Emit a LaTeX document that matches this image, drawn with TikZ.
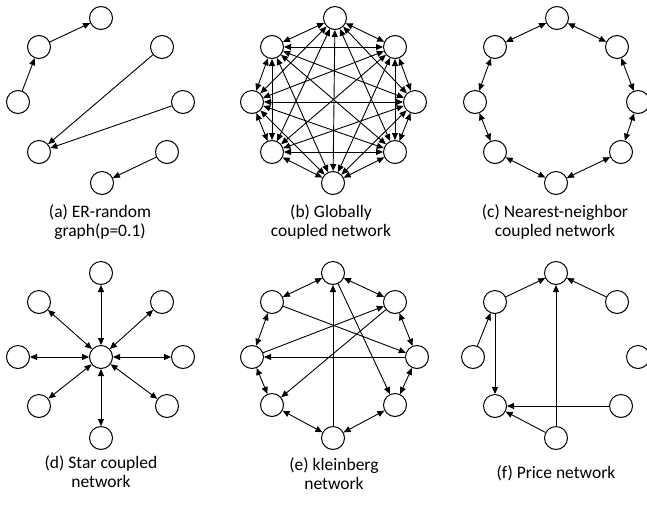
\documentclass[tikz,border=0pt]{standalone}
\usepackage{fontspec}
\setmainfont{Carlito}
\usetikzlibrary{arrows.meta}

\begin{document}
\begin{tikzpicture}[x=1pt,y=-1pt,
    vtx/.style={draw, circle, line width=1pt, minimum size=23pt, inner sep=0pt, fill=white},
    lnk/.style={line width=0.9pt, >={Triangle[length=7pt,width=6pt]}},
    subcap/.style={align=center, font=\fontsize{17.5}{19}\selectfont}]
    \useasboundingbox (0,0) rectangle (647,504);

    % (a) ER-random graph
    \node[vtx] (a1) at (101,18) {};
    \node[vtx] (a2) at (39,47) {};
    \node[vtx] (a3) at (162,47) {};
    \node[vtx] (a4) at (18,102) {};
    \node[vtx] (a5) at (183,102) {};
    \node[vtx] (a6) at (39,152) {};
    \node[vtx] (a7) at (167,152) {};
    \node[vtx] (a8) at (102,183) {};
    \draw[lnk,->] (a4) -- (a2);
    \draw[lnk,->] (a2) -- (a1);
    \draw[lnk,->] (a3) -- (a6);
    \draw[lnk,->] (a5) -- (a6);
    \draw[lnk,->] (a7) -- (a8);
    \node[subcap] (capa) at (100,222) {(a) ER-random\\graph(p=0.1)};

    % (b) globally coupled
    \node[vtx] (b1) at (335,18) {};
    \node[vtx] (b2) at (272,47) {};
    \node[vtx] (b3) at (395,47) {};
    \node[vtx] (b4) at (252,102) {};
    \node[vtx] (b5) at (415,102) {};
    \node[vtx] (b6) at (272,152) {};
    \node[vtx] (b7) at (395,152) {};
    \node[vtx] (b8) at (333,183) {};
    \draw[lnk,<->] (b1) -- (b2); \draw[lnk,<->] (b1) -- (b3); \draw[lnk,<->] (b1) -- (b4); \draw[lnk,<->] (b1) -- (b5);
    \draw[lnk,<->] (b1) -- (b6); \draw[lnk,<->] (b1) -- (b7); \draw[lnk,<->] (b1) -- (b8);
    \draw[lnk,<->] (b2) -- (b3); \draw[lnk,<->] (b2) -- (b4); \draw[lnk,<->] (b2) -- (b5); \draw[lnk,<->] (b2) -- (b6);
    \draw[lnk,<->] (b2) -- (b7); \draw[lnk,<->] (b2) -- (b8);
    \draw[lnk,<->] (b3) -- (b4); \draw[lnk,<->] (b3) -- (b5); \draw[lnk,<->] (b3) -- (b6); \draw[lnk,<->] (b3) -- (b7);
    \draw[lnk,<->] (b3) -- (b8);
    \draw[lnk,<->] (b4) -- (b5); \draw[lnk,<->] (b4) -- (b6); \draw[lnk,<->] (b4) -- (b7); \draw[lnk,<->] (b4) -- (b8);
    \draw[lnk,<->] (b5) -- (b6); \draw[lnk,<->] (b5) -- (b7); \draw[lnk,<->] (b5) -- (b8);
    \draw[lnk,<->] (b6) -- (b7); \draw[lnk,<->] (b6) -- (b8);
    \draw[lnk,<->] (b7) -- (b8);
    \node[subcap] (capb) at (331,222) {(b) Globally\\coupled network};

    % (c) nearest-neighbor coupled
    \node[vtx] (c1) at (557,18) {};
    \node[vtx] (c2) at (495,47) {};
    \node[vtx] (c3) at (617,47) {};
    \node[vtx] (c4) at (475,102) {};
    \node[vtx] (c5) at (638,102) {};
    \node[vtx] (c6) at (495,152) {};
    \node[vtx] (c7) at (621,152) {};
    \node[vtx] (c8) at (556,183) {};
    \draw[lnk,<->] (c1) -- (c2);
    \draw[lnk,<->] (c2) -- (c4);
    \draw[lnk,<->] (c4) -- (c6);
    \draw[lnk,<->] (c6) -- (c8);
    \draw[lnk,<->] (c8) -- (c7);
    \draw[lnk,<->] (c7) -- (c5);
    \draw[lnk,<->] (c5) -- (c3);
    \draw[lnk,<->] (c3) -- (c1);
    \node[subcap] (capc) at (555,222) {(c) Nearest-neighbor\\coupled network};

    % (d) star coupled
    \node[vtx] (d0) at (101,357) {};
    \node[vtx] (d1) at (101,273) {};
    \node[vtx] (d2) at (39,302) {};
    \node[vtx] (d3) at (162,302) {};
    \node[vtx] (d4) at (18,357) {};
    \node[vtx] (d5) at (183,357) {};
    \node[vtx] (d6) at (39,406) {};
    \node[vtx] (d7) at (167,406) {};
    \node[vtx] (d8) at (101,438) {};
    \draw[lnk,<->] (d0) -- (d1);
    \draw[lnk,<->] (d0) -- (d2);
    \draw[lnk,<->] (d0) -- (d3);
    \draw[lnk,<->] (d0) -- (d4);
    \draw[lnk,<->] (d0) -- (d5);
    \draw[lnk,<->] (d0) -- (d6);
    \draw[lnk,<->] (d0) -- (d7);
    \draw[lnk,<->] (d0) -- (d8);
    \node[subcap] (capd) at (101,472) {(d) Star coupled\\network};

    % (e) kleinberg
    \node[vtx] (e1) at (333,273) {};
    \node[vtx] (e2) at (272,302) {};
    \node[vtx] (e3) at (395,302) {};
    \node[vtx] (e4) at (252,357) {};
    \node[vtx] (e5) at (417,357) {};
    \node[vtx] (e6) at (272,405) {};
    \node[vtx] (e7) at (395,405) {};
    \node[vtx] (e8) at (333,438) {};
    \draw[lnk,<->] (e1) -- (e2);
    \draw[lnk,<->] (e2) -- (e4);
    \draw[lnk,<->] (e4) -- (e6);
    \draw[lnk,<->] (e6) -- (e8);
    \draw[lnk,<->] (e8) -- (e7);
    \draw[lnk,<->] (e7) -- (e5);
    \draw[lnk,<->] (e5) -- (e3);
    \draw[lnk,<->] (e3) -- (e1);
    \draw[lnk,->] (e2) -- (e5);
    \draw[lnk,->] (e4) -- (e3);
    \draw[lnk,->] (e3) -- (e6);
    \draw[lnk,->] (e5) -- (e4);
    \draw[lnk,->] (e8) -- (e1);
    \draw[lnk,->] (e1) -- (e7);
    \node[subcap] (cape) at (334,474) {(e) kleinberg\\network};

    % (f) Price network
    \node[vtx] (f1) at (556,273) {};
    \node[vtx] (f2) at (495,302) {};
    \node[vtx] (f3) at (617,302) {};
    \node[vtx] (f4) at (473,357) {};
    \node[vtx] (f5) at (638,357) {};
    \node[vtx] (f6) at (495,406) {};
    \node[vtx] (f7) at (621,406) {};
    \node[vtx] (f8) at (556,438) {};
    \draw[lnk,->] (f2) -- (f1);
    \draw[lnk,->] (f3) -- (f1);
    \draw[lnk,->] (f4) -- (f2);
    \draw[lnk,->] (f2) -- (f6);
    \draw[lnk,->] (f7) -- (f6);
    \draw[lnk,->] (f8) -- (f6);
    \draw[lnk,->] (f8) -- (f1);
    \node[subcap] (capf) at (556,473) {(f) Price network};
\end{tikzpicture}
\end{document}
